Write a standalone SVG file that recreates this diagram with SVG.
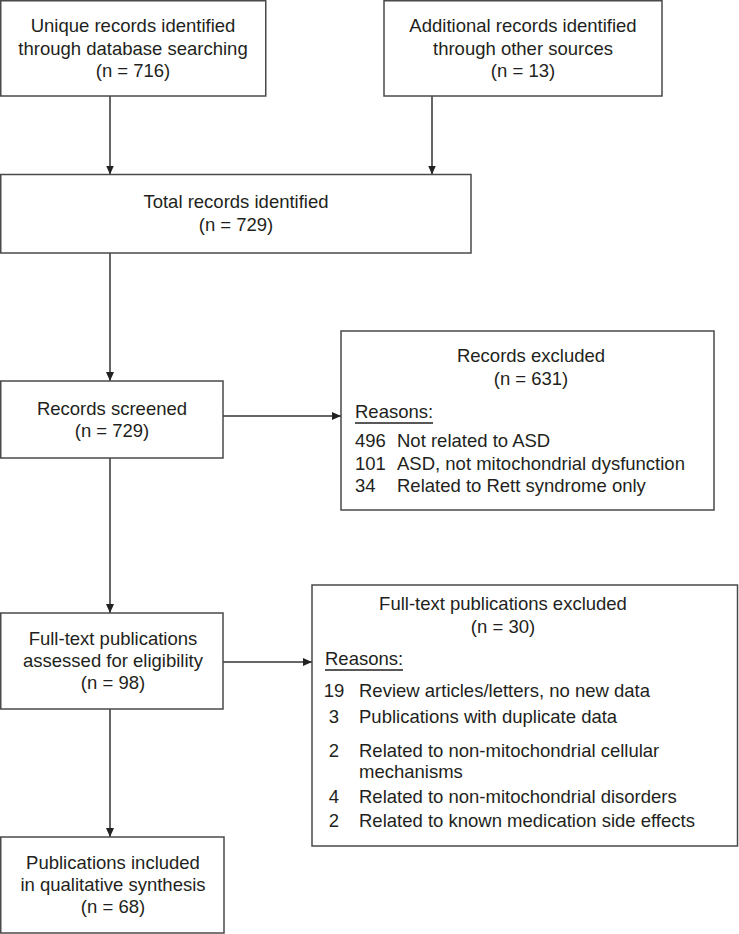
<svg xmlns="http://www.w3.org/2000/svg" width="739" height="934" viewBox="0 0 739 934">
<style>
.box{fill:#fff;stroke:#4a4a4a;stroke-width:1.5}
.t{font-family:"Liberation Sans",Arial,sans-serif;font-size:18.5px;fill:#231f20}
.c{text-anchor:middle}
.con{stroke:#333;stroke-width:1.5;fill:none;marker-end:url(#ah)}
.ul{stroke:#231f20;stroke-width:1.3}
</style>
<defs>
<marker id="ah" markerUnits="userSpaceOnUse" markerWidth="10" markerHeight="9" refX="9" refY="4" orient="auto">
<path d="M0,0 L9,4 L0,8 Z" fill="#222"/>
</marker>
</defs>
<rect width="739" height="934" fill="#fff"/>
<g id="connectors">
<line class="con" x1="110" y1="96" x2="110" y2="174.5"/>
<line class="con" x1="432" y1="96" x2="432" y2="174.5"/>
<line class="con" x1="110" y1="253" x2="110" y2="381"/>
<line class="con" x1="223" y1="416" x2="341" y2="416"/>
<line class="con" x1="110" y1="458" x2="110" y2="613"/>
<line class="con" x1="223" y1="662" x2="312" y2="662"/>
<line class="con" x1="110" y1="709" x2="110" y2="837"/>
</g>
<g id="unique">
<rect class="box" x="0.75" y="0.75" width="265" height="95.25"/>
<text class="t c" x="133" y="32">Unique records identified</text>
<text class="t c" x="133" y="55">through database searching</text>
<text class="t c" x="133" y="77">(n = 716)</text>
</g>
<g id="additional">
<rect class="box" x="384" y="0.75" width="278" height="95.25"/>
<text class="t c" x="523" y="32">Additional records identified</text>
<text class="t c" x="523" y="55">through other sources</text>
<text class="t c" x="523" y="77">(n = 13)</text>
</g>
<g id="total">
<rect class="box" x="0.75" y="174.5" width="470.25" height="78.5"/>
<text class="t c" x="236" y="208">Total records identified</text>
<text class="t c" x="236" y="231">(n = 729)</text>
</g>
<g id="screened">
<rect class="box" x="0.75" y="381" width="222.25" height="77"/>
<text class="t c" x="112" y="415">Records screened</text>
<text class="t c" x="112" y="437">(n = 729)</text>
</g>
<g id="records-excluded">
<rect class="box" x="341" y="331" width="373" height="179"/>
<text class="t c" x="531" y="362">Records excluded</text>
<text class="t c" x="531" y="385">(n = 631)</text>
<text class="t" x="355" y="418">Reasons:</text>
<line class="ul" x1="355" y1="423" x2="433" y2="423"/>
<text class="t" x="355" y="447">496</text>
<text class="t" x="397" y="447">Not related to ASD</text>
<text class="t" x="355" y="469.5">101</text>
<text class="t" x="397" y="469.5">ASD, not mitochondrial dysfunction</text>
<text class="t" x="355" y="492">34</text>
<text class="t" x="397" y="492">Related to Rett syndrome only</text>
</g>
<g id="fulltext">
<rect class="box" x="0.75" y="613" width="222.25" height="96"/>
<text class="t c" x="113" y="645">Full-text publications</text>
<text class="t c" x="113" y="667">assessed for eligibility</text>
<text class="t c" x="113" y="689">(n = 98)</text>
</g>
<g id="fulltext-excluded">
<rect class="box" x="312" y="585" width="425.5" height="261"/>
<text class="t c" x="503" y="610">Full-text publications excluded</text>
<text class="t c" x="503" y="633">(n = 30)</text>
<text class="t" x="325" y="665">Reasons:</text>
<line class="ul" x1="325" y1="670" x2="403" y2="670"/>
<text class="t c" x="334" y="697">19</text>
<text class="t" x="359" y="697">Review articles/letters, no new data</text>
<text class="t c" x="334" y="723">3</text>
<text class="t" x="359" y="723">Publications with duplicate data</text>
<text class="t c" x="334" y="757">2</text>
<text class="t" x="359" y="757">Related to non-mitochondrial cellular</text>
<text class="t" x="359" y="778">mechanisms</text>
<text class="t c" x="334" y="803">4</text>
<text class="t" x="359" y="803">Related to non-mitochondrial disorders</text>
<text class="t c" x="334" y="827">2</text>
<text class="t" x="359" y="827">Related to known medication side effects</text>
</g>
<g id="included">
<rect class="box" x="0.75" y="837" width="223.25" height="96"/>
<text class="t c" x="113" y="869">Publications included</text>
<text class="t c" x="113" y="891">in qualitative synthesis</text>
<text class="t c" x="113" y="913">(n = 68)</text>
</g>
</svg>
